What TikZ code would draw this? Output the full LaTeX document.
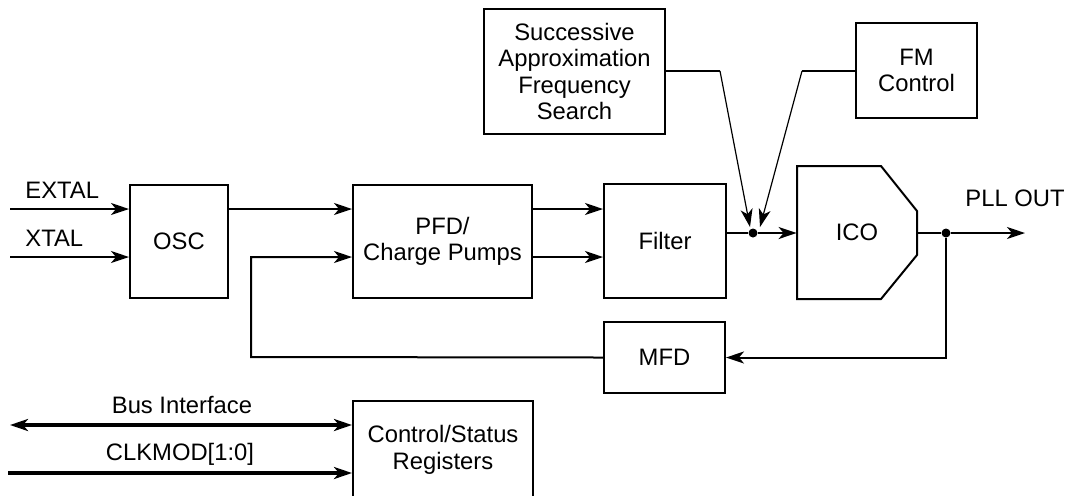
\documentclass[tikz,border=0pt]{standalone}
\usepackage{fontspec}
\setmainfont{Liberation Sans}
\usetikzlibrary{arrows.meta}
\begin{document}
\begin{tikzpicture}[x=0.5pt,y=-0.5pt,
  font=\fontsize{11.9}{13.3}\selectfont,
  blk/.style={draw,line width=1pt,inner sep=0pt,align=center},
  wire/.style={line width=1pt},
  thin wire/.style={line width=0.6pt},
  bus/.style={line width=2pt},
  arr/.style={-{Stealth[length=9pt,width=6pt,inset=2.5pt]}},
  darr/.style={{Stealth[length=9pt,width=6pt,inset=2.5pt]}-{Stealth[length=9pt,width=6pt,inset=2.5pt]}},
  dot/.style={circle,fill,inner sep=0pt,minimum size=4.5pt},
  lbl/.style={anchor=base west,inner sep=0pt}
]
\useasboundingbox (0,0) rectangle (1066,495);
\begin{scope}
\clip (0,0) rectangle (1066,495);
% blocks
\node[blk,minimum width=49pt,minimum height=56.5pt] (OSC) at (179,241.5) {OSC};
\node[blk,minimum width=89.5pt,minimum height=56.5pt] (PFD) at (442.5,241.5) {PFD/\\Charge Pumps};
\node[blk,minimum width=61pt,minimum height=57pt] (FIL) at (665,241) {Filter};
\node[blk,minimum width=60.5pt,minimum height=35.5pt] (MFD) at (664.5,357.5) {MFD};
\node[blk,minimum width=90.5pt,minimum height=62.5pt] (SAFS) at (574.5,71.5) {Successive\\Approximation\\Frequency\\Search};
\node[blk,minimum width=60.5pt,minimum height=47.5pt] (FM) at (916.5,70.5) {FM\\Control};
\node[blk,minimum width=90pt,minimum height=49pt] (CSR) at (443,450) {Control/Status\\Registers};
% ICO
\node[inner sep=0pt,minimum width=60pt,minimum height=66.5pt] (ICO) at (857,232.5) {ICO};
\draw[line width=1pt] (797,166) -- (881,166) -- (917,211) -- (917,255) -- (881,299) -- (797,299) -- cycle;
\end{scope}
% coordinates
\coordinate (yA) at (0,209);
\coordinate (yB) at (0,257);
\coordinate (yO) at (0,233);
\coordinate (yM) at (0,71);
\coordinate (yBus) at (0,425);
\coordinate (yClk) at (0,473);
\coordinate (extal) at (10,209);
\coordinate (xtal) at (10,257);
\coordinate (fbc) at (251,357);
\coordinate (sa1) at (720,71);
\coordinate (sa2) at (750,227);
\coordinate (fm1) at (802,71);
\coordinate (fm2) at (760,227);
\coordinate (icoout) at (917,233);
\coordinate (pllout) at (1025,233);
\coordinate (busl) at (10,425);
\coordinate (clkl) at (8,473);
% junctions
\node[dot] (J1) at (753,233) {};
\node[dot] (J2) at (946,233) {};
% connectors
\draw[wire,arr] (extal) -- (OSC.west |- yA);
\draw[wire,arr] (xtal) -- (OSC.west |- yB);
\draw[wire,arr] (OSC.east |- yA) -- (PFD.west |- yA);
\draw[wire,arr] (PFD.east |- yA) -- (FIL.west |- yA);
\draw[wire,arr] (PFD.east |- yB) -- (FIL.west |- yB);
\draw[wire,arr] (MFD.west) -- (fbc) |- (PFD.west |- yB);
\draw[wire] (FIL.east |- yO) -- (J1);
\draw[wire,arr] (J1) -- (ICO.west |- yO);
\draw[wire] (icoout) -- (J2);
\draw[wire,arr] (J2) -- (pllout);
\draw[wire,arr] (J2) |- (MFD.east);
\draw[thin wire] (SAFS.east |- yM) -- (sa1);
\draw[thin wire,arr] (sa1) -- (sa2);
\draw[thin wire] (FM.west |- yM) -- (fm1);
\draw[thin wire,arr] (fm1) -- (fm2);
\draw[bus,darr] (busl) -- (CSR.west |- yBus);
\draw[bus,arr] (clkl) -- (CSR.west |- yClk);
% labels
\node[lbl] (LE) at (25,198) {EXTAL};
\node[lbl] (LX) at (25,246) {XTAL};
\node[lbl] (LP) at (965,206) {PLL OUT};
\node[anchor=base,inner sep=0pt] (LB) at (182,413.5) {Bus Interface};
\node[anchor=base,inner sep=0pt] (LC) at (180,460) {CLKMOD[1:0]};
\end{tikzpicture}
\end{document}
